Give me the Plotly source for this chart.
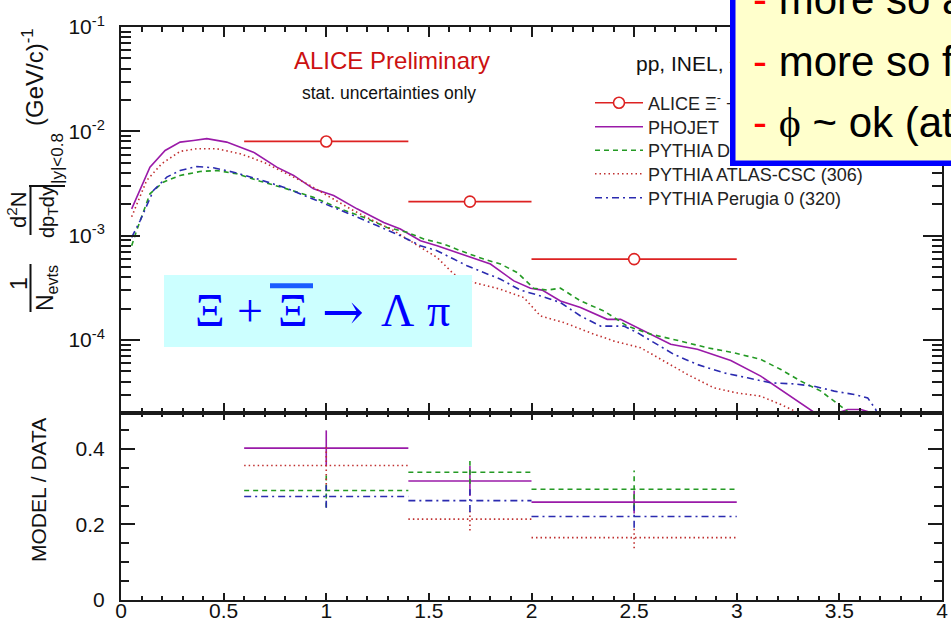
import plotly.graph_objects as go

# ---------------- data ----------------
# Xi + anti-Xi pT spectrum, ALICE points (bin centres and bin edges)
alice_pt = [1.0, 1.7, 2.5]
alice_lo = [0.6, 1.4, 2.0]
alice_hi = [1.4, 2.0, 3.0]
alice_yield = [8.0e-3, 2.12e-3, 5.97e-4]

# Model spectra
phojet_pt = [0.052, 0.141, 0.215, 0.288, 0.353, 0.418, 0.515, 0.645, 0.759, 0.841,
             0.938, 1.036, 1.150, 1.280, 1.361, 1.459, 1.540, 1.654, 1.751, 1.800,
             1.914, 1.995, 2.052, 2.141, 2.239, 2.369, 2.434, 2.548, 2.678, 2.808,
             2.971, 3.117, 3.215, 3.312, 3.377, 3.430, 3.475, 3.540, 3.605, 3.680, 3.720]
phojet_y = [1.81e-3, 4.54e-3, 6.56e-3, 7.89e-3, 8.18e-3, 8.51e-3, 7.89e-3, 6.32e-3, 4.54e-3, 3.78e-3,
            2.81e-3, 2.43e-3, 1.81e-3, 1.34e-3, 1.16e-3, 8.95e-4, 8.02e-4, 6.67e-4, 5.75e-4, 5.35e-4,
            3.69e-4, 3.14e-4, 3.01e-4, 2.37e-4, 2.05e-4, 1.58e-4, 1.58e-4, 1.22e-4, 9.10e-5, 8.15e-5,
            6.38e-5, 4.51e-5, 3.36e-5, 2.49e-5, 2.03e-5, 1.20e-5, 1.95e-5, 2.16e-5, 2.16e-5, 1.95e-5, 1.0e-5]

d6t_pt = [0.052, 0.076, 0.141, 0.206, 0.288, 0.385, 0.467, 0.564, 0.678, 0.808,
          0.938, 1.068, 1.182, 1.296, 1.394, 1.475, 1.572, 1.654, 1.767, 1.849,
          1.930, 2.011, 2.077, 2.141, 2.239, 2.353, 2.467, 2.580, 2.727, 2.857,
          2.987, 3.117, 3.215, 3.312, 3.410, 3.475, 3.540, 3.580]
d6t_y = [8.02e-4, 1.12e-3, 2.52e-3, 3.26e-3, 3.78e-3, 4.12e-3, 4.22e-3, 3.92e-3, 3.33e-3, 2.81e-3,
         2.33e-3, 1.81e-3, 1.50e-3, 1.20e-3, 1.08e-3, 9.29e-4, 8.32e-4, 7.18e-4, 5.97e-4, 5.35e-4,
         4.44e-4, 3.14e-4, 3.01e-4, 3.14e-4, 2.37e-4, 1.90e-4, 1.36e-4, 1.14e-4, 9.77e-5, 8.43e-5,
         7.55e-5, 6.52e-5, 5.22e-5, 4.04e-5, 3.24e-5, 2.59e-5, 2.07e-5, 1.3e-5]

atlas_pt = [0.052, 0.125, 0.198, 0.288, 0.369, 0.467, 0.580, 0.694, 0.808, 0.922,
            1.020, 1.133, 1.231, 1.328, 1.394, 1.459, 1.540, 1.621, 1.719, 1.849,
            1.963, 2.044, 2.158, 2.288, 2.402, 2.532, 2.645, 2.760, 2.889, 3.003,
            3.117, 3.215, 3.296, 3.350]
atlas_y = [1.52e-3, 3.38e-3, 4.89e-3, 6.43e-3, 6.81e-3, 6.81e-3, 6.10e-3, 5.07e-3, 3.92e-3, 3.03e-3,
           2.33e-3, 1.74e-3, 1.39e-3, 1.12e-3, 9.29e-4, 7.73e-4, 6.19e-4, 4.29e-4, 3.56e-4, 3.07e-4,
           2.55e-4, 1.70e-4, 1.47e-4, 1.17e-4, 9.77e-5, 8.43e-5, 6.28e-5, 4.68e-5, 3.48e-5, 3.11e-5,
           2.90e-5, 2.41e-5, 2.03e-5, 1.5e-5]

perugia_pt = [0.052, 0.093, 0.158, 0.223, 0.288, 0.369, 0.450, 0.548, 0.662, 0.792,
              0.906, 1.036, 1.133, 1.247, 1.361, 1.459, 1.540, 1.621, 1.686, 1.767,
              1.849, 1.946, 2.044, 2.141, 2.239, 2.337, 2.450, 2.515, 2.597, 2.694,
              2.808, 2.938, 3.052, 3.166, 3.280, 3.377, 3.475, 3.572, 3.638, 3.678, 3.700]
perugia_y = [9.64e-4, 1.39e-3, 2.71e-3, 3.64e-3, 4.22e-3, 4.60e-3, 4.48e-3, 4.06e-3, 3.51e-3, 2.92e-3,
             2.37e-3, 1.87e-3, 1.56e-3, 1.25e-3, 1.00e-3, 8.02e-4, 7.18e-4, 5.97e-4, 5.15e-4, 4.44e-4,
             3.83e-4, 3.01e-4, 2.65e-4, 2.29e-4, 1.70e-4, 1.36e-4, 1.36e-4, 1.18e-4, 9.42e-5, 7.29e-5,
             5.83e-5, 4.85e-5, 4.35e-5, 3.89e-5, 3.80e-5, 3.61e-5, 3.24e-5, 3.01e-5, 2.79e-5, 2.15e-5, 1.2e-5]

# Model / data ratios per ALICE bin, with their uncertainties
ratio_phojet = [0.402, 0.315, 0.259]
err_phojet = [0.047, 0.040, 0.030]
ratio_d6t = [0.290, 0.338, 0.293]
err_d6t = [0.045, 0.030, 0.050]
ratio_atlas = [0.356, 0.214, 0.165]
err_atlas = [0.050, 0.030, 0.028]
ratio_perugia = [0.274, 0.263, 0.221]
err_perugia = [0.030, 0.030, 0.030]

names = ["PHOJET", "PYTHIA D6T (109)", "PYTHIA ATLAS-CSC (306)", "PYTHIA Perugia 0 (320)"]

# ---------------- geometry helpers ----------------
W, H = 951, 621
ML, MR, MT, MB = 121, 9, 27, 21
PW, PH = W - ML - MR, H - MT - MB
SPLIT = 413


def fx(p):
    return (p - ML) / PW


def fy(p):
    return (H - MB - p) / PH


SANS = "Liberation Sans, Arial, sans-serif"
SERIF = "Liberation Serif, Times New Roman, serif"

styles = {
    "PHOJET": dict(color="#9a1aa8", dash="solid", width=1.6),
    "PYTHIA D6T (109)": dict(color="#249a24", dash="5px,4px", width=1.6),
    "PYTHIA ATLAS-CSC (306)": dict(color="#c03030", dash="1.5px,3px", width=1.6),
    "PYTHIA Perugia 0 (320)": dict(color="#2b2bb0", dash="7px,4px,2px,4px", width=1.6),
}

# one legend box per entry, stacked at a fixed row pitch
legend_ids = ["legend", "legend2", "legend3", "legend4", "legend5"]
legend_rows = [103, 127, 150.5, 174, 198]

fig = go.Figure()

# ---------------- top panel: spectra ----------------
for i, (nm, xs, ys) in enumerate(zip(names, [phojet_pt, d6t_pt, atlas_pt, perugia_pt],
                                          [phojet_y, d6t_y, atlas_y, perugia_y])):
    fig.add_trace(go.Scatter(x=xs, y=ys, mode="lines", name=nm, line=styles[nm],
                             legend=legend_ids[i + 1], xaxis="x", yaxis="y"))

alice_err = [(h - l) / 2 for l, h in zip(alice_lo, alice_hi)]
fig.add_trace(go.Scatter(
    x=alice_pt, y=alice_yield, mode="markers", showlegend=False,
    error_x=dict(type="data", array=alice_err, color="#dd2222", thickness=1.8, width=0),
    marker=dict(symbol="circle", size=11, color="white", line=dict(color="#dd2222", width=1.6)),
    xaxis="x", yaxis="y"))
# legend entry for the ALICE points (line + open circle)
fig.add_trace(go.Scatter(
    x=[None], y=[None], mode="lines+markers", name="ALICE Ξ<sup>-</sup> + Ξ<sup>+</sup>",
    line=dict(color="#dd2222", width=1.6), legend=legend_ids[0],
    marker=dict(symbol="circle", size=11, color="white", line=dict(color="#dd2222", width=1.6)),
    xaxis="x", yaxis="y"))

# ---------------- bottom panel: model / data ----------------
ratios = [(ratio_phojet, err_phojet), (ratio_d6t, err_d6t), (ratio_atlas, err_atlas),
          (ratio_perugia, err_perugia)]
for nm, (vals, errs) in zip(names, ratios):
    hx, hy, vx, vy = [], [], [], []
    for lo, hi, c, v, e in zip(alice_lo, alice_hi, alice_pt, vals, errs):
        hx += [lo, hi, None]
        hy += [v, v, None]
        vx += [c, c, None]
        vy += [v - e, v + e, None]
    st = dict(styles[nm])
    fig.add_trace(go.Scatter(x=hx, y=hy, mode="lines", line=st, showlegend=False,
                             xaxis="x2", yaxis="y2"))
    fig.add_trace(go.Scatter(x=vx, y=vy, mode="lines", line=st, showlegend=False,
                             xaxis="x2", yaxis="y2"))

# ---------------- axes ----------------
axis_common = dict(showline=True, linecolor="#1a1a1a", linewidth=2, mirror="ticks",
                   ticks="inside", tickcolor="#1a1a1a", tickwidth=1.5, showgrid=False,
                   zeroline=False, automargin=False,
                   tickfont=dict(family=SANS, size=21, color="#111"))

x_major = [0, 0.5, 1, 1.5, 2, 2.5, 3, 3.5, 4]
x_labels = ["0", "0.5", "1", "1.5", "2", "2.5", "3", "3.5", "4"]
x_minor = [i / 10 for i in range(41) if i % 5]

dec_vals = [1e-4, 1e-3, 1e-2, 1e-1]
dec_text = ["10<sup>-4</sup>", "10<sup>-3</sup>", "10<sup>-2</sup>", "10<sup>-1</sup>"]
log_minor = [m * 10 ** e for e in range(-5, -1) for m in range(2, 10) if 2e-5 <= m * 10 ** e <= 1e-1]

split_p = fy(SPLIT)
fig.update_layout(
    xaxis=dict(axis_common, domain=[0, 1], range=[0, 4], anchor="y", tickmode="array",
               tickvals=x_major, showticklabels=False, ticklen=10,
               minor=dict(ticks="inside", tickmode="array", tickvals=x_minor, ticklen=5,
                          tickcolor="#1a1a1a", tickwidth=1.5)),
    yaxis=dict(axis_common, type="log", domain=[split_p, 1], range=[-4.699, -1], anchor="x",
               tickmode="array", tickvals=dec_vals, ticktext=dec_text, ticklen=19,
               ticklabelstandoff=10,
               minor=dict(ticks="inside", tickmode="array", tickvals=log_minor, ticklen=10,
                          tickcolor="#1a1a1a", tickwidth=1.5)),
    xaxis2=dict(axis_common, domain=[0, 1], range=[0, 4], anchor="y2", tickmode="array",
                tickvals=x_major, ticktext=x_labels, ticklen=7, ticklabelstandoff=-9,
                minor=dict(ticks="inside", tickmode="array", tickvals=x_minor, ticklen=4,
                           tickcolor="#1a1a1a", tickwidth=1.5)),
    yaxis2=dict(axis_common, domain=[0, split_p], range=[0, 0.495], anchor="x2",
                tickmode="array", tickvals=[0, 0.2, 0.4], ticktext=["0", "0.2", "0.4"],
                ticklen=14, ticklabelstandoff=10,
                minor=dict(ticks="inside", tickmode="array",
                           tickvals=[0.05, 0.1, 0.15, 0.25, 0.3, 0.35, 0.45], ticklen=8,
                           tickcolor="#1a1a1a", tickwidth=1.5)),
)

# ---------------- decorations ----------------
shapes = [
    # cyan label box
    dict(type="rect", xref="paper", yref="paper", x0=fx(164), x1=fx(472), y0=fy(347), y1=fy(275),
         fillcolor="#ccffff", line=dict(width=0), layer="above"),
    # bar over the anti-particle symbol
    dict(type="line", xref="paper", yref="paper", x0=fx(270), x1=fx(313), y0=fy(285.8), y1=fy(285.8),
         line=dict(color="#1a5cff", width=5), layer="above"),
    # fraction bars of the y title
    dict(type="line", xref="paper", yref="paper", x0=fx(30.5), x1=fx(30.5), y0=fy(312), y1=fy(264),
         line=dict(color="#111", width=2)),
    dict(type="line", xref="paper", yref="paper", x0=fx(30.5), x1=fx(30.5), y0=fy(235), y1=fy(187),
         line=dict(color="#111", width=2)),
    # evaluation bar after dy
    dict(type="line", xref="paper", yref="paper", x0=fx(29), x1=fx(65), y0=fy(186), y1=fy(186),
         line=dict(color="#111", width=2)),
]


def ann(text, x, y, size, color="#111", family=SANS, angle=0, xanchor="center", **kw):
    d = dict(text=text, xref="paper", yref="paper", x=fx(x), y=fy(y), showarrow=False,
             xanchor=xanchor, yanchor="middle", textangle=angle,
             font=dict(family=family, size=size, color=color))
    d.update(kw)
    return d


BLUE = "#0000ff"
annotations = [
    ann("ALICE Preliminary", 392, 61, 24, color="#cc1111"),
    ann("stat. uncertainties only", 389, 93, 17.5),
    ann("pp, INEL, √s = 900 GeV", 634, 63.5, 21, xanchor="left"),
    # y title of the spectrum panel
    ann("1", 19, 284, 23, angle=-90),
    ann("N<sub>evts</sub>", 46, 288, 23, angle=-90),
    ann("d<sup>2</sup>N", 17, 210, 22, angle=-90),
    ann("dp<sub>T</sub>dy", 48, 212, 20, angle=-90),
    ann("|y|<0.8", 57, 159, 17, angle=-90),
    ann("(GeV/c)<sup>-1</sup>", 33, 77, 24, angle=-90),
    # y title of the ratio panel
    ann("MODEL / DATA", 38, 490, 21, angle=-90),
    # decay channel label
    ann("Ξ", 210, 310.5, 46, color=BLUE, family=SERIF),
    ann("+", 250, 310.5, 46, color=BLUE, family=SERIF),
    ann("Ξ", 293, 310.5, 46, color=BLUE, family=SERIF),
    ann("→", 343, 312, 50, color=BLUE, family="DejaVu Serif, serif"),
    ann("Λ", 397, 310.5, 46, color=BLUE, family=SERIF),
    ann("π", 438, 310.5, 46, color=BLUE, family=SERIF),
    # highlighted note box in the upper right
    dict(text=" ", xref="paper", yref="paper", x=fx(730), y=fy(165.7), xanchor="left",
         yanchor="bottom", showarrow=False, width=300, height=200, bgcolor="#ffffcc",
         bordercolor="#0000ff", borderwidth=5.5, borderpad=0),
    ann("<span style='color:#ff0000'>-</span> more so a", 751, -1, 42, color="#000",
        xanchor="left"),
    ann("<span style='color:#ff0000'>-</span> more so f", 751, 62, 42, color="#000",
        xanchor="left"),
    ann("<span style='color:#ff0000'>-</span> <span style='font-family:Liberation Serif'>ϕ</span> ~ ok (at",
        751, 123, 42, color="#000", xanchor="left"),
]

legend_common = dict(x=fx(590), xanchor="left", yanchor="middle", bgcolor="rgba(0,0,0,0)",
                     font=dict(family=SANS, size=18, color="#222"), itemwidth=48,
                     tracegroupgap=0, borderwidth=0)
legends = {lid: dict(legend_common, y=fy(row)) for lid, row in zip(legend_ids, legend_rows)}

fig.update_layout(
    width=W, height=H, margin=dict(l=ML, r=MR, t=MT, b=MB, autoexpand=False),
    paper_bgcolor="white", plot_bgcolor="white",
    shapes=shapes, annotations=annotations,
    font=dict(family=SANS, color="#111"),
    **legends,
)

fig.write_html("out.html")
